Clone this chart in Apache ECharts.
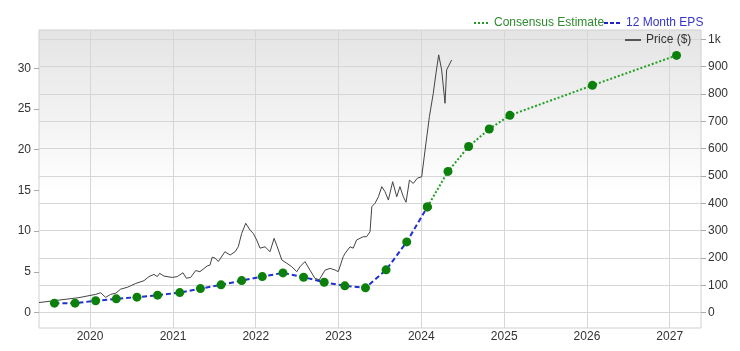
<!DOCTYPE html>
<html>
<head>
<meta charset="utf-8">
<script src="https://cdn.jsdelivr.net/npm/echarts@6/dist/echarts.min.js"></script>
<style>
  html, body { margin: 0; padding: 0; background: #fff; }
  #main { width: 740px; height: 351px; }
</style>
</head>
<body>
<div id="main"></div>
<script>
// 12 month EPS (reported), quarterly
var epsDates = ['2019-07-28', '2019-10-27', '2020-01-26', '2020-04-26', '2020-07-26', '2020-10-25',
    '2021-01-31', '2021-05-02', '2021-08-01', '2021-10-31', '2022-01-30', '2022-05-01',
    '2022-07-31', '2022-10-30', '2023-01-29', '2023-04-30', '2023-07-30', '2023-10-29', '2024-01-28'];
var epsValues = [1.15, 1.15, 1.44, 1.68, 1.89, 2.13, 2.45, 2.94, 3.40, 3.92, 4.41, 4.87,
    4.34, 3.72, 3.28, 3.03, 5.24, 8.67, 12.97];

// consensus estimate
var estDates = ['2024-01-28', '2024-04-28', '2024-07-28', '2024-10-27', '2025-01-26', '2026-01-25', '2027-01-31'];
var estValues = [12.97, 17.33, 20.39, 22.54, 24.22, 27.90, 31.58];

// price ($), right axis
var priceDates = ['2019-05-21', '2019-08-17', '2019-11-13', '2020-01-26', '2020-02-17', '2020-03-10',
    '2020-04-01', '2020-04-23', '2020-05-15', '2020-06-14', '2020-07-21', '2020-08-26', '2020-09-17',
    '2020-10-09', '2020-10-24', '2020-11-03', '2020-11-22', '2020-12-29', '2021-01-20', '2021-02-14',
    '2021-03-01', '2021-03-20', '2021-04-11', '2021-04-30', '2021-06-01', '2021-06-13', '2021-06-23',
    '2021-07-05', '2021-07-20', '2021-08-18', '2021-09-10', '2021-10-02', '2021-10-16', '2021-10-31',
    '2021-11-18', '2021-12-07', '2021-12-21', '2022-01-05', '2022-01-20', '2022-02-11', '2022-03-05',
    '2022-03-23', '2022-04-06', '2022-04-26', '2022-05-18', '2022-06-09', '2022-07-01', '2022-07-15',
    '2022-08-06', '2022-08-28', '2022-09-19', '2022-10-08', '2022-11-03', '2022-11-25', '2022-12-17',
    '2022-12-31', '2023-01-22', '2023-01-30', '2023-02-21', '2023-03-07', '2023-03-22', '2023-04-06',
    '2023-04-20', '2023-05-05', '2023-05-20', '2023-05-28', '2023-06-11', '2023-06-26', '2023-07-11',
    '2023-07-25', '2023-08-09', '2023-08-28', '2023-09-15', '2023-09-29', '2023-10-14', '2023-10-26',
    '2023-11-10', '2023-11-27', '2023-12-15', '2024-01-03', '2024-01-18', '2024-02-06', '2024-02-23',
    '2024-03-06', '2024-03-18', '2024-03-31', '2024-04-15', '2024-04-22', '2024-05-14'];
var priceValues = [37, 46, 55, 67, 73, 56,
    67, 71, 86, 93, 107, 117, 132,
    140, 132, 144, 134, 129, 132, 146,
    126, 129, 154, 150, 171, 174, 203,
    200, 187, 223, 211, 223, 241, 290,
    327, 302, 290, 266, 236, 241, 223,
    272, 241, 193, 181, 168, 150, 168,
    187, 156, 126, 120, 156, 162, 156,
    150, 205, 217, 241, 236, 266, 272,
    278, 278, 296, 388, 400, 424, 461,
    443, 412, 479, 424, 461, 424, 404,
    485, 473, 492, 497, 595, 717, 802,
    876, 943, 888, 766, 888, 924];

var yearTicks = ['2020-01-01', '2021-01-01', '2022-01-01', '2023-01-01', '2024-01-01', '2025-01-01', '2026-01-01', '2027-01-01'];
var epsTicks = [0, 5, 10, 15, 20, 25, 30];
var priceTicks = [0, 100, 200, 300, 400, 500, 600, 700, 800, 900, 1000];

function ts(d) { return Date.parse(d + 'T00:00:00Z'); }
function zip(d, v) {
    return d.map(function (x, i) { return [ts(x), v[i]]; });
}

var myChart = echarts.init(document.getElementById('main'));
var labelStyle = { color: '#333', fontSize: 12, fontFamily: 'Liberation Sans, Arial, sans-serif' };
var legendFont = '12px Liberation Sans, Arial, sans-serif';
var xTicks = yearTicks.map(ts);

var option = {
    animation: false,
    grid: {
        left: 39, right: 39, top: 30, bottom: 23,
        show: true,
        borderColor: '#d0d0d0',
        borderWidth: 1,
        backgroundColor: {
            type: 'linear', x: 0, y: 0, x2: 0, y2: 1,
            colorStops: [{ offset: 0, color: '#e4e4e4' }, { offset: 0.55, color: '#ffffff' }, { offset: 1, color: '#ffffff' }]
        }
    },
    xAxis: {
        type: 'value',
        min: ts('2019-05-21'),
        max: ts('2027-05-19'),
        axisLine: { show: false },
        axisTick: { show: false, customValues: xTicks },
        axisLabel: Object.assign({
            customValues: xTicks,
            margin: 3,
            formatter: function (v) { return String(new Date(v).getUTCFullYear()); }
        }, labelStyle),
        splitLine: { show: true, lineStyle: { color: '#d6d6d6', width: 1 } }
    },
    yAxis: [{
        type: 'value',
        position: 'left',
        min: -1.9,
        max: 34.7,
        axisLine: { show: false },
        axisTick: { show: true, length: 5, customValues: epsTicks, lineStyle: { color: '#aaa' } },
        axisLabel: Object.assign({ customValues: epsTicks, margin: 8 }, labelStyle),
        splitLine: { show: false }
    }, {
        type: 'value',
        position: 'right',
        min: -56,
        max: 1034,
        axisLine: { show: false },
        axisTick: { show: true, length: 5, customValues: priceTicks, lineStyle: { color: '#aaa' } },
        axisLabel: Object.assign({
            customValues: priceTicks,
            margin: 7,
            formatter: function (v) { return v === 1000 ? '1k' : String(v); }
        }, labelStyle),
        splitLine: { show: true, lineStyle: { color: '#d6d6d6', width: 1 } }
    }],
    graphic: [
        { type: 'line', z: 100, shape: { x1: 474, y1: 23, x2: 489, y2: 23 }, style: { stroke: '#229922', lineWidth: 2, lineDash: [2, 2] } },
        { type: 'text', z: 100, x: 494, y: 23, style: { text: 'Consensus Estimate', fill: '#2e8b2e', font: legendFont, verticalAlign: 'middle' } },
        { type: 'line', z: 100, shape: { x1: 604, y1: 23, x2: 622, y2: 23 }, style: { stroke: '#2222cc', lineWidth: 2, lineDash: [4, 2] } },
        { type: 'text', z: 100, x: 626, y: 23, style: { text: '12 Month EPS', fill: '#3535cc', font: legendFont, verticalAlign: 'middle' } },
        { type: 'line', z: 100, shape: { x1: 625, y1: 40, x2: 641, y2: 40 }, style: { stroke: '#555', lineWidth: 2 } },
        { type: 'text', z: 100, x: 646, y: 40, style: { text: 'Price ($)', fill: '#333', font: legendFont, verticalAlign: 'middle' } }
    ],
    series: [{
        name: 'Price ($)',
        type: 'line',
        yAxisIndex: 1,
        data: zip(priceDates, priceValues),
        showSymbol: false,
        lineStyle: { color: '#444', width: 1 },
        z: 2
    }, {
        name: '12 Month EPS',
        type: 'line',
        yAxisIndex: 0,
        data: zip(epsDates, epsValues),
        symbol: 'circle',
        symbolSize: 9,
        itemStyle: { color: '#0b800b' },
        lineStyle: { color: '#1f2fd0', width: 2, type: [5, 3] },
        z: 3
    }, {
        name: 'Consensus Estimate',
        type: 'line',
        yAxisIndex: 0,
        data: zip(estDates, estValues),
        symbol: 'circle',
        symbolSize: 9,
        itemStyle: { color: '#0b800b' },
        lineStyle: { color: '#22a022', width: 2, type: [2, 2] },
        z: 3
    }]
};

option && myChart.setOption(option);
</script>
</body>
</html>
